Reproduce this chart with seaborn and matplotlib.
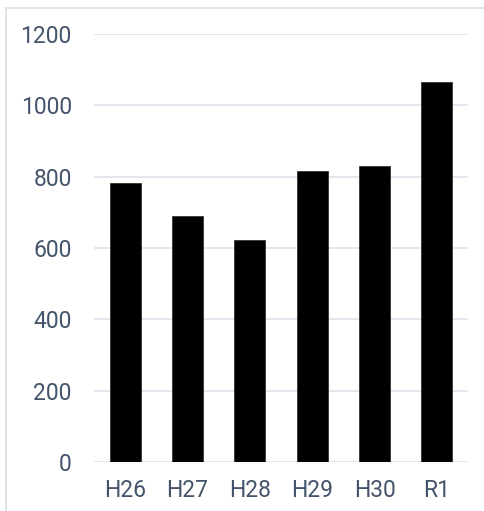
import matplotlib
matplotlib.use("Agg")
import matplotlib.pyplot as plt
import seaborn as sns
import pandas as pd
from matplotlib.patches import Rectangle

categories = ["H26", "H27", "H28", "H29", "H30", "R1"]
values = [781, 690, 622, 816, 830, 1065]
yticks = [0, 200, 400, 600, 800, 1000, 1200]

sns.set_theme(style="white")
plt.rcParams['font.family'] = ['Roboto', 'Noto Sans CJK JP', 'DejaVu Sans']

W, H = 484, 511
fig = plt.figure(figsize=(W / 100, H / 100), dpi=100)
# outer chart border (cropped on right and bottom)
fig.patches.append(Rectangle((6 / W, -0.1), 1.2, 1 - 8 / H + 0.1, transform=fig.transFigure,
                             fill=False, edgecolor="#d9dde4", linewidth=1.2))
ax = fig.add_axes([94 / W, 1 - 462 / H, (468 - 94) / W, (462 - 34) / H])

df = pd.DataFrame({"cat": categories, "val": values})
sns.barplot(data=df, x="cat", y="val", color="black", width=0.5, ax=ax,
            edgecolor="#333333", linewidth=0.6, zorder=3, saturation=1)

ax.set_ylim(0, 1200)
ax.set_xlim(-0.5, len(categories) - 0.5)
ax.set_yticks(yticks)
ax.yaxis.grid(True, color="#dde2ea", linewidth=1.2, zorder=0)
ax.set_axisbelow(True)
for s in ax.spines.values():
    s.set_visible(False)
ax.set_xlabel("")
ax.set_ylabel("")
ax.tick_params(axis="both", length=0, labelsize=16.5, labelcolor="#44546a")
ax.tick_params(axis="y", pad=16)
ax.tick_params(axis="x", pad=12.5)
for lbl in ax.get_yticklabels():
    lbl.set_horizontalalignment("right")

fig.savefig("out.png", dpi=100)
